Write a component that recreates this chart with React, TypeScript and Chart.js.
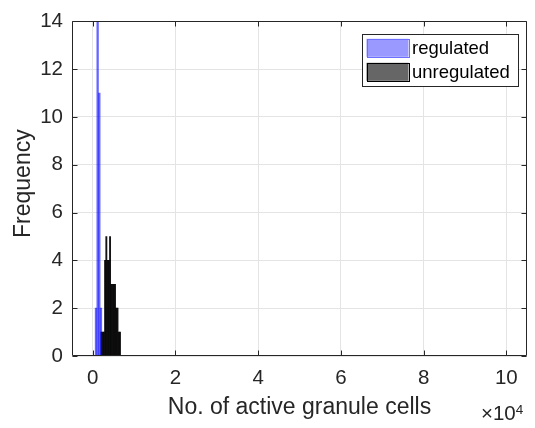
import React, { useEffect, useRef } from "react";
import { Chart, registerables } from "chart.js";

Chart.register(...registerables);

// ---- data ----
const regulatedBinCenters = [800, 1200, 1600, 2000];
const regulatedCounts = [2, 18, 11, 2];
const unregulatedBinCenters = [
  2100, 2400, 2700, 3000, 3300, 3600, 3900, 4200, 4500, 4800, 5100, 5400, 5700, 6000, 6300, 6600,
];
const unregulatedCounts = [1, 1, 1, 4, 5, 4, 4, 5, 3, 3, 3, 3, 2, 2, 1, 1];
const xTickValues = [0, 20000, 40000, 60000, 80000, 100000];
const yTickValues = [0, 2, 4, 6, 8, 10, 12, 14];
const seriesLabels = ["regulated", "unregulated"];
const xTitle = "No. of active granule cells";
const yTitle = "Frequency";
const xExponent = "4";

const FONT = "'Liberation Sans', Arial, sans-serif";
const AXIS = "#262626";
const GRID = "#e4e4e4";
const BLUE_BAR = "rgba(0,0,255,0.6)";
const BLACK_BAR = "rgba(0,0,0,0.92)";
const LEGEND_FILLS = ["#9999ff", "#666666"];
const LEGEND_EDGES = ["#6f6fff", "#000000"];

const framePlugin = {
  id: "frame",
  afterDraw(chart: any) {
    const { ctx, chartArea } = chart;
    const { left, right, top, bottom } = chartArea;
    const xs = chart.scales.x;
    const ys = chart.scales.y;
    ctx.save();
    ctx.strokeStyle = AXIS;
    ctx.lineWidth = 1;
    const L = Math.round(left) + 0.5;
    const R = Math.round(right) - 0.5;
    const T = Math.round(top) + 0.5;
    const B = Math.round(bottom) - 0.5;
    ctx.beginPath();
    ctx.rect(L, T, R - L, B - T);
    ctx.stroke();
    const tl = 5;
    ctx.beginPath();
    xs.ticks.forEach((t: any) => {
      const px = Math.round(xs.getPixelForValue(t.value)) + 0.5;
      ctx.moveTo(px, B);
      ctx.lineTo(px, B - tl);
      ctx.moveTo(px, T);
      ctx.lineTo(px, T + tl);
    });
    ys.ticks.forEach((t: any) => {
      const py = Math.round(ys.getPixelForValue(t.value)) + 0.5;
      ctx.moveTo(L, py);
      ctx.lineTo(L + tl, py);
      ctx.moveTo(R, py);
      ctx.lineTo(R - tl, py);
    });
    ctx.stroke();

    // y title (drawn slightly above the axis center, as in the reference)
    ctx.save();
    ctx.fillStyle = AXIS;
    ctx.font = `23px ${FONT}`;
    ctx.textAlign = "center";
    ctx.textBaseline = "middle";
    ctx.translate(23.5, (top + bottom) / 2 - 5);
    ctx.rotate(-Math.PI / 2);
    ctx.fillText(yTitle, 0, 0);
    ctx.restore();

    // exponent label
    ctx.fillStyle = AXIS;
    ctx.textBaseline = "alphabetic";
    ctx.textAlign = "left";
    ctx.font = `20.5px ${FONT}`;
    const base = "\u00d710";
    const bx = right - 46;
    ctx.fillText(base, bx, 420);
    const w = ctx.measureText(base).width;
    ctx.font = `13.5px ${FONT}`;
    ctx.fillText(xExponent, bx + w, 413.5);

    // legend
    const lx = right - 165;
    const ly = top + 13;
    const lw = 156;
    const lh = 52;
    ctx.fillStyle = "#ffffff";
    ctx.fillRect(lx, ly, lw, lh);
    ctx.strokeStyle = AXIS;
    ctx.lineWidth = 1;
    ctx.strokeRect(Math.round(lx) + 0.5, Math.round(ly) + 0.5, lw, lh);
    ctx.font = `18.5px ${FONT}`;
    ctx.textBaseline = "middle";
    chart.data.datasets.forEach((ds: any, i: number) => {
      const sy = ly + 4.5 + i * 24;
      const sx = lx + 4.5;
      ctx.fillStyle = LEGEND_FILLS[i];
      ctx.fillRect(sx, sy, 42, 18);
      ctx.strokeStyle = LEGEND_EDGES[i];
      ctx.strokeRect(Math.round(sx) + 0.5, Math.round(sy) + 0.5, 42, 18);
      ctx.fillStyle = "#000000";
      ctx.fillText(ds.label, sx + 45.5, sy + 10);
    });
    ctx.restore();
  },
};

export default function App() {
  const ref = useRef<HTMLCanvasElement | null>(null);

  useEffect(() => {
    document.body.style.margin = "0";
    if (!ref.current) return;
    const tickFont = { family: FONT, size: 20.5 };
    const titleFont = { family: FONT, size: 23 };
    const chart = new Chart(ref.current, {
      type: "bar",
      data: {
        datasets: [
          {
            label: seriesLabels[0],
            data: regulatedBinCenters.map((x, i) => ({ x, y: regulatedCounts[i] })),
            xAxisID: "x2",
            backgroundColor: BLUE_BAR,
            borderWidth: 0,
            grouped: false,
            barPercentage: 1,
            categoryPercentage: 1,
          } as any,
          {
            label: seriesLabels[1],
            data: unregulatedBinCenters.map((x, i) => ({ x, y: unregulatedCounts[i] })),
            xAxisID: "x",
            backgroundColor: BLACK_BAR,
            borderWidth: 0,
            grouped: false,
            barPercentage: 1,
            categoryPercentage: 1,
          } as any,
        ],
      },
      options: {
        animation: false,
        responsive: true,
        maintainAspectRatio: false,
        layout: { padding: { top: 16, right: 8, left: 0, bottom: 0 } },
        plugins: { legend: { display: false }, tooltip: { enabled: false } },
        scales: {
          x: {
            type: "linear",
            min: -5000,
            max: 105000,
            offset: false,
            afterBuildTicks: (s: any) => {
              s.ticks = xTickValues.map((v) => ({ value: v }));
            },
            afterFit: (s: any) => {
              s.height = 72;
            },
            grid: { color: GRID, drawTicks: false, offset: false },
            border: { display: false },
            ticks: {
              padding: 10,
              font: tickFont,
              color: AXIS,
              maxRotation: 0,
              callback: (v: any) => String(Number(v) / 10000),
            },
            title: {
              display: true,
              text: xTitle,
              font: titleFont,
              color: AXIS,
              padding: { top: 0, bottom: 7 },
            },
          },
          x2: {
            type: "linear",
            min: -5000,
            max: 105000,
            offset: false,
            display: false,
          },
          y: {
            min: 0,
            max: 14,
            afterBuildTicks: (s: any) => {
              s.ticks = yTickValues.map((v) => ({ value: v }));
            },
            afterFit: (s: any) => {
              s.width = 72;
            },
            grid: { color: GRID, drawTicks: false },
            border: { display: false },
            ticks: { padding: 9, font: tickFont, color: AXIS },
            title: { display: false },
          },
        },
      } as any,
      plugins: [framePlugin],
    });
    return () => chart.destroy();
  }, []);

  return (
    <div style={{ position: "absolute", left: 0, top: 0, width: 535, height: 428, background: "#fff" }}>
      <canvas ref={ref} />
    </div>
  );
}
